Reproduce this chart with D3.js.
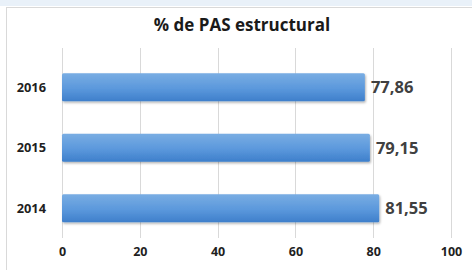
<!DOCTYPE html>
<html>
<head>
<meta charset="utf-8">
<script src="https://cdn.jsdelivr.net/npm/d3@7"></script>
<style>
  body { margin: 0; background: #ffffff; }
  svg { display: block; font-family: "Open Sans", "Liberation Sans", sans-serif; }
</style>
</head>
<body>
<div id="chart"></div>
<script>
// Data
const years = ["2016", "2015", "2014"];
const values = [77.86, 79.15, 81.55];
const labels = ["77,86", "79,15", "81,55"];
const xTicks = [0, 20, 40, 60, 80, 100];

const width = 472;
const height = 270;

const svg = d3.select("#chart")
  .append("svg")
  .attr("width", width)
  .attr("height", height);

// page strip and chart frame
svg.append("rect")
  .attr("x", 0).attr("y", 0)
  .attr("width", width).attr("height", 6)
  .attr("fill", "#e9f1f9");
svg.append("rect")
  .attr("x", 6.5).attr("y", 7.5)
  .attr("width", width).attr("height", height)
  .attr("fill", "#ffffff")
  .attr("stroke", "#d9d9d9");

// gradient for bars
const defs = svg.append("defs");
const grad = defs.append("linearGradient")
  .attr("id", "barGrad")
  .attr("x1", 0).attr("y1", 0).attr("x2", 0).attr("y2", 1);
grad.append("stop").attr("offset", "0%").attr("stop-color", "#79ade3");
grad.append("stop").attr("offset", "55%").attr("stop-color", "#5b98dc");
grad.append("stop").attr("offset", "100%").attr("stop-color", "#3e7fcb");

const shadow = defs.append("filter").attr("id", "shadow")
  .attr("x", "-5%").attr("y", "-20%").attr("width", "110%").attr("height", "150%");
shadow.append("feDropShadow")
  .attr("dx", 1).attr("dy", 1.5).attr("stdDeviation", 1)
  .attr("flood-color", "#000").attr("flood-opacity", 0.3);

// Scales
const x = d3.scaleLinear()
  .domain([0, 100])
  .range([62, 451]);

const y = d3.scaleBand()
  .domain(years)
  .range([57, 238.5])
  .paddingInner(0.54)
  .paddingOuter(0.27);

// Gridlines
svg.append("g")
  .selectAll("line")
  .data(xTicks).enter()
  .append("line")
  .attr("x1", d => Math.round(x(d)) + 0.5)
  .attr("x2", d => Math.round(x(d)) + 0.5)
  .attr("y1", 48)
  .attr("y2", 238)
  .attr("stroke", "#d9d9d9")
  .attr("stroke-width", 1);

// X axis labels
svg.append("g")
  .attr("transform", "translate(0,252)")
  .call(d3.axisBottom(x).tickValues(xTicks).tickSize(0).tickPadding(0))
  .call(g => g.select(".domain").remove())
  .call(g => g.selectAll("text")
    .attr("font-size", 12.5)
    .attr("font-weight", "bold")
    .attr("fill", "#1f1f1f")
    .attr("dy", "0.35em")
    .style("font-family", "'Open Sans', sans-serif"));

// Bars
svg.append("g")
  .selectAll("rect")
  .data(values).enter()
  .append("rect")
  .attr("x", x(0))
  .attr("y", (d, i) => y(years[i]))
  .attr("width", d => x(d) - x(0))
  .attr("height", y.bandwidth())
  .attr("rx", 1.5)
  .attr("fill", "url(#barGrad)")
  .attr("filter", "url(#shadow)");

// Category labels
svg.append("g")
  .selectAll("text")
  .data(years).enter()
  .append("text")
  .attr("x", 46)
  .attr("y", d => y(d) + y.bandwidth() / 2)
  .attr("dy", "0.35em")
  .attr("text-anchor", "end")
  .attr("font-size", 12.8)
  .attr("font-weight", "bold")
  .attr("fill", "#1f1f1f")
  .text(d => d);

// Value labels
svg.append("g")
  .selectAll("text")
  .data(values).enter()
  .append("text")
  .attr("x", d => x(d) + 6)
  .attr("y", (d, i) => y(years[i]) + y.bandwidth() / 2)
  .attr("dy", "0.35em")
  .attr("font-size", 16.5)
  .attr("font-weight", "bold")
  .attr("fill", "#404040")
  .text((d, i) => labels[i]);

// Title
svg.append("text")
  .attr("x", 242)
  .attr("y", 31)
  .attr("text-anchor", "middle")
  .attr("font-size", 17)
  .attr("font-weight", "bold")
  .attr("fill", "#1a1a1a")
  .text("% de PAS estructural");
</script>
</body>
</html>
